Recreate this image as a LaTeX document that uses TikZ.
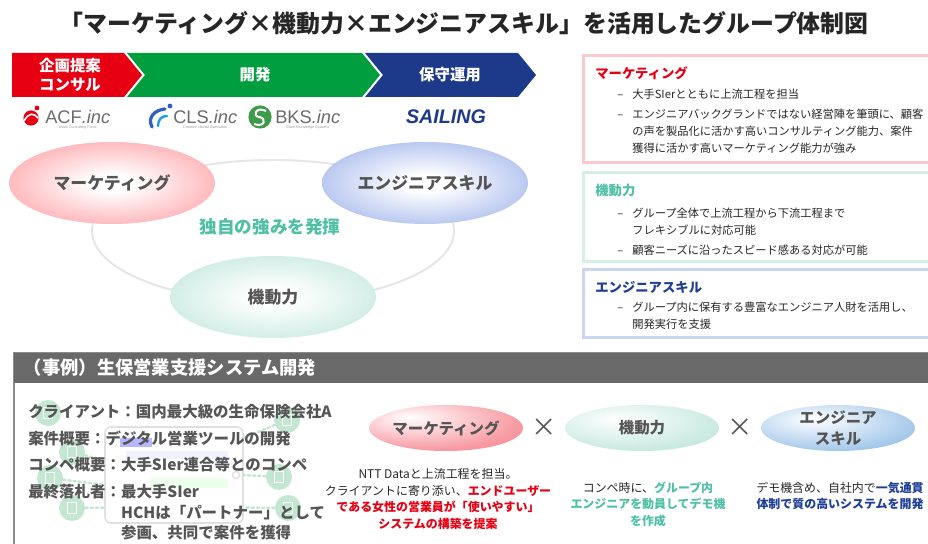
\documentclass[tikz,border=0pt]{standalone}
\usepackage{fontspec}
\setmainfont{Noto Sans CJK JP}
\newfontfamily\logofont{Liberation Sans}
\usetikzlibrary{shapes.geometric,positioning}

\definecolor{mkred}{HTML}{E60012}
\definecolor{devgreen}{HTML}{009E3F}
\definecolor{opblue}{HTML}{1D3A8A}
\definecolor{mkpink}{HTML}{FF858D}
\definecolor{enlav}{HTML}{869FE6}
\definecolor{mbmint}{HTML}{B6E3D6}
\definecolor{tealtxt}{HTML}{4FBFA6}
\definecolor{navytxt}{HTML}{1F3E97}
\definecolor{txtgray}{HTML}{555555}
\definecolor{ringgray}{HTML}{E6E6E6}
\definecolor{boxpink}{HTML}{F9C9CE}
\definecolor{boxmint}{HTML}{D4EEE8}
\definecolor{boxlav}{HTML}{CAD5F3}
\definecolor{hdrgray}{HTML}{696969}
\definecolor{smred}{HTML}{F2404F}
\definecolor{smblue}{HTML}{5296D8}
\definecolor{smmint}{HTML}{9FD9CA}
\definecolor{iconmint}{HTML}{C4E7D2}
\definecolor{clsblue}{HTML}{2F5FC4}
\definecolor{bksgreen}{HTML}{3E9B4A}

% soft fills for the ovals
\pgfdeclareradialshading{mkglow}{\pgfpoint{0bp}{0bp}}{color(0bp)=(white); color(5bp)=(white); color(28bp)=(mkpink!65); color(48bp)=(mkpink); color(60bp)=(mkpink)}
\pgfdeclareradialshading{englow}{\pgfpoint{0bp}{0bp}}{color(0bp)=(white); color(5bp)=(white); color(28bp)=(enlav!65); color(48bp)=(enlav); color(60bp)=(enlav)}
\pgfdeclareradialshading{mbglow}{\pgfpoint{0bp}{0bp}}{color(0bp)=(white); color(5bp)=(white); color(28bp)=(mbmint!70); color(48bp)=(mbmint); color(60bp)=(mbmint)}
\pgfdeclareradialshading{smredglow}{\pgfpoint{-12bp}{12bp}}{color(0bp)=(white); color(30bp)=(smred!50); color(70bp)=(smred); color(100bp)=(smred)}
\pgfdeclareradialshading{smmintglow}{\pgfpoint{-8bp}{10bp}}{color(0bp)=(white); color(30bp)=(smmint!55); color(65bp)=(smmint); color(100bp)=(smmint)}
\pgfdeclareradialshading{smblueglow}{\pgfpoint{-8bp}{10bp}}{color(0bp)=(white); color(30bp)=(smblue!50); color(65bp)=(smblue); color(100bp)=(smblue)}

\begin{document}
\begin{tikzpicture}[x=0.25mm,y=-0.25mm,node distance=24.5mm,
		stage/.style={text=white,align=center,font=\fontsize{11}{14}\selectfont\bfseries},
		big oval/.style={ellipse,minimum width=51.5mm,minimum height=20.5mm,inner sep=0pt,
			text=txtgray,font=\fontsize{12}{13}\selectfont\bfseries},
		small oval/.style={ellipse,minimum width=38.5mm,minimum height=11.5mm,inner sep=0pt,
			text=txtgray,align=center,font=\fontsize{11}{14.5}\selectfont\bfseries},
		cross mark/.style={text=txtgray,font=\fontsize{18}{18}\selectfont},
		box head/.style={anchor=west,inner sep=0pt,font=\fontsize{9.5}{11}\selectfont\bfseries},
		box body/.style={anchor=north west,inner sep=0pt,text=black!85,font=\fontsize{8}{12.2}\selectfont},
		desc/.style={align=center,text=black!85,font=\fontsize{8.5}{11.8}\selectfont},
		logo/.style={anchor=west,inner sep=0pt,text=black!58,font=\logofont\fontsize{13}{13}\selectfont},
		logo sub/.style={inner sep=0pt,text=black!40,font=\logofont\fontsize{2.6}{3}\selectfont},
		icon/.style={circle,fill=iconmint,minimum size=6.5mm,inner sep=0pt,
			path picture={\draw[white,line width=0.3mm] ([shift={(-1.1mm,-1.3mm)}]path picture bounding box.center) rectangle ([shift={(1.1mm,1.3mm)}]path picture bounding box.center);}},
		dot link/.style={draw=iconmint,line width=0.6mm,dotted,line cap=round}]
	
	\useasboundingbox (0,0) rectangle (928,544);
	
	\node[text=black!85,font=\fontsize{17}{17}\selectfont\bfseries] (title) at (464,23)
	{「マーケティング×機動力×エンジニアスキル」を活用したグループ体制図};
	
	% process arrows
	\fill[mkred] (12,53) -- (124,53) -- (142,75) -- (124,97) -- (12,97) -- cycle;
	\fill[devgreen] (127,53) -- (362,53) -- (380,75) -- (362,97) -- (127,97) -- (145,75) -- cycle;
	\fill[opblue] (365,53) -- (518,53) -- (536,75) -- (518,97) -- (365,97) -- (383,75) -- cycle;
	\node[stage] (plan) at (70,75) {企画提案\\コンサル};
	\node[stage] (dev) at (255,75) {開発};
	\node[stage] (ops) at (450,75) {保守運用};
	
	% company logos
	\fill[mkred] (31,118) circle (1.9mm);
	\fill[mkred] (37,108) circle (0.6mm);
	\draw[white,line width=0.4mm] (24,121) .. controls (29,112) and (34,113) .. (38,118);
	\node[logo] (acf) at (45,117) {ACF\textit{.inc}};
	\node[logo sub,below=0.5mm of acf] (acfsub) {Asian Consulting Force};
	
	\draw[clsblue,line width=0.8mm,line cap=round] (152,127) .. controls (147,117) and (155,110) .. (165,109);
	\draw[clsblue!60!cyan,line width=0.6mm,line cap=round] (158,126) .. controls (158,119) and (162,116) .. (167,116);
	\fill[clsblue] (170,106) circle (0.6mm);
	\node[logo] (cls) at (173,117) {CLS\textit{.inc}};
	\node[logo sub,below=0.5mm of cls] (clssub) {Creative Liberal Specialists};
	
	\node[circle,fill=bksgreen,minimum size=5.8mm,inner sep=0pt] (bksicon) at (260,117) {};
	\draw[white,line width=0.5mm] (266,111) .. controls (256,106) and (252,116) .. (259,117)
	.. controls (267,118) and (265,128) .. (254,124);
	\node[logo] (bks) at (275,117) {BKS\textit{.inc}};
	\node[logo sub,below=0.5mm of bks] (bkssub) {Brain Knowledge Systems};
	
	\node[text=opblue,font=\logofont\fontsize{14}{14}\selectfont\bfseries\itshape] (sail) at (446,117) {SAILING};
	
	% three strengths
	\node[ellipse,draw=ringgray,line width=0.5mm,minimum width=90.5mm,minimum height=35.5mm] (ring) at (273,231) {};
	\node[big oval,shading=mkglow] (mk) at (112,183) {マーケティング};
	\node[big oval,shading=englow] (en) at (425,183) {エンジニアスキル};
	\node[big oval,shading=mbglow] (mb) at (273,297) {機動力};
	\node[text=tealtxt,font=\fontsize{12.5}{13}\selectfont\bfseries] (core) at (270,227) {独自の強みを発揮};
	
	% explanation boxes
	\draw[boxpink,line width=0.75mm] (583,56) rectangle (945,163);
	\draw[boxmint,line width=0.75mm] (583,173) rectangle (945,262);
	\draw[boxlav,line width=0.75mm] (583,270) rectangle (945,337);
	
	\node[box head,text=mkred] (mkhead) at (595,73) {マーケティング};
	\node[box body] (mkbody) at (617,86) {\begin{tabular}{@{}p{3.75mm}@{}l@{}}
			– & 大手SIerとともに上流工程を担当\\[2pt]
			– & エンジニアバックグランドではない経営陣を筆頭に、顧客\\
			& の声を製品化に活かす高いコンサルティング能力、案件\\
			& 獲得に活かす高いマーケティング能力が強み
	\end{tabular}};
	
	\node[box head,text=tealtxt] (mbhead) at (595,190) {機動力};
	\node[box body] (mbbody) at (617,205) {\begin{tabular}{@{}p{3.75mm}@{}l@{}}
			– & グループ全体で上流工程から下流工程まで\\
			& フレキシブルに対応可能\\[2pt]
			– & 顧客ニーズに沿ったスピード感ある対応が可能
	\end{tabular}};
	
	\node[box head,text=navytxt] (enhead) at (595,287) {エンジニアスキル};
	\node[box body] (enbody) at (617,299) {\begin{tabular}{@{}p{3.75mm}@{}l@{}}
			– & グループ内に保有する豊富なエンジニア人財を活用し、\\
			& 開発実行を支援
	\end{tabular}};
	
	% case study panel
	\draw[black!45,line width=0.35mm] (14,353) rectangle (945,560);
	\fill[hdrgray] (14,353) rectangle (945,383);
	\node[anchor=west,text=white,font=\fontsize{13}{13}\selectfont\bfseries] (case) at (19,368) {（事例）生保営業支援システム開発};
	
	% faint tablet sketch behind the facts
	\node[draw=black!12,line width=0.4mm,rounded corners=1.5mm,minimum width=34.5mm,minimum height=24mm] (tablet) at (174,475) {};
	\node[circle,draw=black!12,line width=0.3mm,minimum size=1.8mm,inner sep=0pt] (homekey) at (236,475) {};
	\fill[blue!40,opacity=0.7] (120,438) rectangle (152,447);
	\fill[blue!5] (126,451) rectangle (228,459);
	\fill[green!8] (150,478) rectangle (228,488);
	\node[icon] (ic1) at (48,413) {};
	\node[icon] (ic2) at (72,452) {};
	\node[icon] (ic3) at (50,478) {};
	\node[icon] (ic4) at (72,508) {};
	\node[icon] (ic5) at (287,420) {};
	\node[icon] (ic6) at (279,477) {};
	\node[icon] (ic7) at (288,508) {};
	\path[dot link]
	(ic2) edge (tablet.168)
	(ic3) edge (tablet.188)
	(ic4) edge (tablet.205)
	(ic5) edge (tablet.28)
	(ic6) edge (tablet.east)
	(ic7) edge (tablet.-25);
	
	\node[anchor=north west,inner sep=0pt,align=left,text=txtgray,font=\fontsize{11}{14.6}\selectfont\bfseries] (facts) at (28,404)
	{クライアント：国内最大級の生命保険会社A\\[4.4pt]
		案件概要：デジタル営業ツールの開発\\[4.4pt]
		コンペ概要：大手SIer連合等とのコンペ\\[4.4pt]
		最終落札者：最大手SIer\\
		\phantom{最終落札者：}HCHは「パートナー」として\\
		\phantom{最終落札者：}参画、共同で案件を獲得};
	
	% strengths applied to the case
	\node[small oval,shading=smredglow] (sm1) at (446,428) {マーケティング};
	\node[cross mark,right of=sm1] (x1) {×};
	\node[small oval,shading=smmintglow,right of=x1] (sm2) {機動力};
	\node[cross mark,right of=sm2] (x2) {×};
	\node[small oval,shading=smblueglow,inner sep=-2.5pt,right of=x2] (sm3) {エンジニア\\スキル};
	
	\node[desc] (d1) at (438,499) {NTT Dataと上流工程を担当。\\
		クライアントに寄り添い、\textcolor{mkred}{\bfseries エンドユーザー}\\
		\textcolor{mkred}{\bfseries である女性の営業員が「使いやすい」}\\
		\textcolor{mkred}{\bfseries システムの構築を提案}};
	\node[desc] (d2) at (648,504) {コンペ時に、\textcolor{tealtxt}{\bfseries グループ内}\\
		\textcolor{tealtxt}{\bfseries エンジニアを動員してデモ機}\\
		\textcolor{tealtxt}{\bfseries を作成}};
	\node[desc] (d3) at (840,496) {デモ機含め、自社内で\textcolor{navytxt}{\bfseries 一気通貫}\\
		\textcolor{navytxt}{\bfseries 体制で質の高いシステムを開発}};
\end{tikzpicture}
\end{document}
